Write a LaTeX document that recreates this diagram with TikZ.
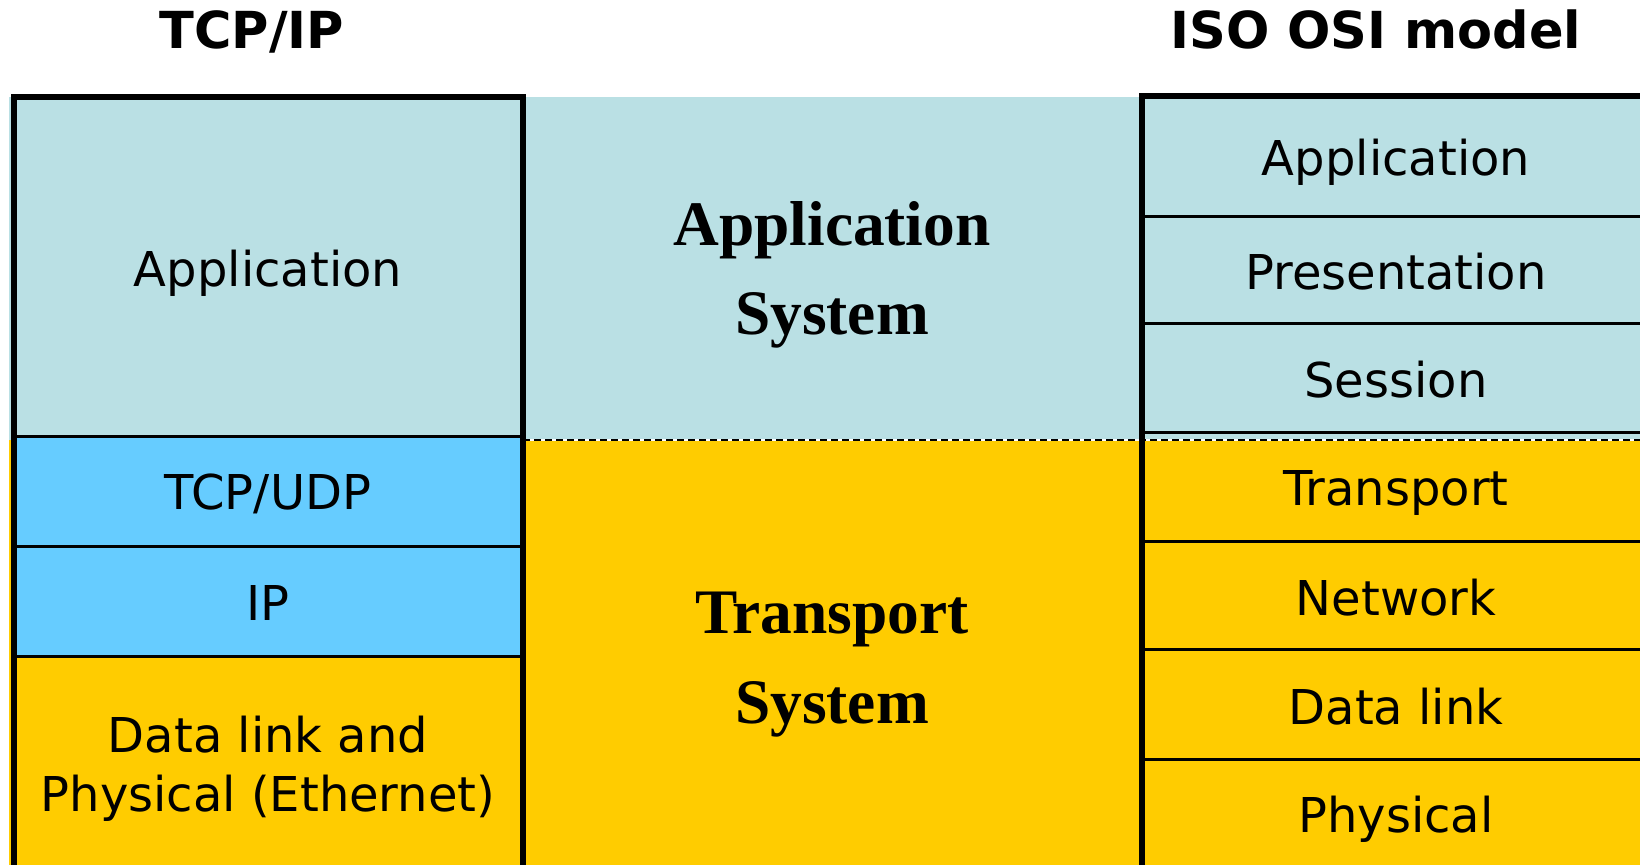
\documentclass[tikz,border=0pt]{standalone}
\usepackage{fontspec}
\setmainfont{DejaVu Sans}
\newfontfamily\timesbold{Liberation Serif}[BoldFont={Liberation Serif Bold}]
\definecolor{appblue}{RGB}{186,224,228}
\definecolor{tcpblue}{RGB}{102,204,255}
\definecolor{trayellow}{RGB}{255,204,0}

\begin{document}
\begin{tikzpicture}[x=0.5pt,y=-0.5pt,
  layer/.style={font=\fontsize{24}{30}\selectfont, anchor=base, inner sep=0pt},
  heading/.style={font=\fontsize{25.5}{30}\selectfont\bfseries, anchor=base, inner sep=0pt},
  system/.style={font=\timesbold\fontsize{31.7}{44}\selectfont\bfseries, anchor=base, inner sep=0pt},
  frame/.style={line width=2.8pt, line join=miter},
  sep/.style={line width=1.5pt}]

\useasboundingbox (0,0) rectangle (1640,865);
\clip (0,0) rectangle (1640,865);

% background bands: application system (top) and transport system (bottom)
\fill[appblue] (9,97) rectangle (1660,440);
\fill[trayellow] (9,440) rectangle (1660,880);

% TCP/UDP and IP rows of the TCP/IP stack
\fill[tcpblue] (14,437) rectangle (523,657);

% dashed boundary between the two systems
\draw[white, line width=1pt] (523,440) -- (1660,440);
\draw[black, line width=0.6pt, dash pattern=on 3.5pt off 2pt] (523,440) -- (1660,440);

% TCP/IP stack
\foreach \y in {437,547,657} \draw[sep] (14,\y) -- (523,\y);
\draw[frame] (14,880) -- (14,97) -- (523,97) -- (523,880);

% ISO OSI stack
\foreach \y in {217,324,433,542,650,760} \draw[sep] (1142,\y) -- (1660,\y);
\draw[frame] (1142,880) -- (1142,96) -- (1660,96);

% headings
\node[heading] (hTcp) at (252,49) {TCP/IP};
\node[heading] (hOsi) at (1376,49) {ISO OSI model};

% TCP/IP layers
\node[layer] (tApp) at (268,287) {Application};
\node[layer] (tTcp) at (268,510) {TCP/UDP};
\node[layer] (tIp)  at (268,621) {IP};
\node[layer] (tLink1) at (268,753) {Data link and};
\node[layer] (tLink2) at (268,812) {Physical (Ethernet)};

% system labels
\node[system] (sApp1) at (832,246) {Application};
\node[system] (sApp2) at (832,335) {System};
\node[system] (sTr1) at (832,634) {Transport};
\node[system] (sTr2) at (832,724) {System};

% ISO OSI layers
\node[layer] (oApp)  at (1396,176) {Application};
\node[layer] (oPres) at (1396,290) {Presentation};
\node[layer] (oSes)  at (1396,398) {Session};
\node[layer] (oTr)   at (1396,506) {Transport};
\node[layer] (oNet)  at (1396,616) {Network};
\node[layer] (oLink) at (1396,725) {Data link};
\node[layer] (oPhy)  at (1396,833) {Physical};
\end{tikzpicture}
\end{document}
